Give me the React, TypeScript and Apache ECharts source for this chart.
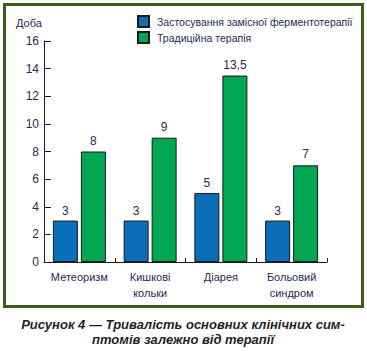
import React, { useEffect, useRef } from "react";
import * as echarts from "echarts";

const categories = ["Метеоризм", "Кишкові\nкольки", "Діарея", "Больовий\nсиндром"];
const seriesNames = ["Застосування замісної ферментотерапії", "Традиційна терапія"];
const enzymeValues = [3, 3, 5, 3];
const traditionalValues = [8, 9, 13.5, 7];
const yTicks = [0, 2, 4, 6, 8, 10, 12, 14, 16];
const unitLabel = "Доба";
const captionLines = [
  "Рисунок 4 — Тривалість основних клінічних сим-",
  "птомів залежно від терапії",
];

const TEXT = "#1e2a55";
const FONT = "'Liberation Sans', Arial, sans-serif";

export default function App() {
  const ref = useRef<HTMLDivElement>(null);
  useEffect(() => {
    if (!ref.current) return;
    const chart = echarts.init(ref.current, undefined, { renderer: "svg" });
    const fmt = (p: any) => String(p.value).replace(".", ",");
    chart.setOption({
      animation: false,
      backgroundColor: "#ffffff",
      grid: { left: 44, top: 41, width: 283, height: 221, containLabel: false },
      legend: {
        orient: "vertical",
        left: 137,
        top: 15,
        itemWidth: 11,
        itemHeight: 11,
        itemGap: 3,
        icon: "rect",
        padding: 0,
        textStyle: { fontFamily: FONT, fontSize: 10.5, color: TEXT, lineHeight: 12, padding: [0, 0, 0, 3], width: 220, overflow: "none" },
        data: seriesNames,
      },
      xAxis: {
        type: "category",
        data: categories,
        axisLine: { lineStyle: { color: "#1a1a1a", width: 1 } },
        axisTick: { show: true, inside: true, length: 4, alignWithLabel: false, lineStyle: { color: "#1a1a1a" } },
        axisLabel: { interval: 0, fontFamily: FONT, fontSize: 11, color: TEXT, lineHeight: 16, margin: 7 },
      },
      yAxis: {
        type: "value",
        min: yTicks[0],
        max: yTicks[yTicks.length - 1],
        interval: 2,
        splitLine: { show: false },
        axisLine: { show: true, lineStyle: { color: "#1a1a1a", width: 1 } },
        axisTick: { show: true, inside: true, length: 7, lineStyle: { color: "#1a1a1a" } },
        axisLabel: { fontFamily: FONT, fontSize: 12, color: TEXT, margin: 5 },
      },
      series: [
        {
          name: seriesNames[0],
          type: "bar",
          data: enzymeValues,
          barWidth: 25,
          barGap: "12%",
          itemStyle: { color: "#0a6eb9", borderColor: "#1a1a1a", borderWidth: 1 },
          label: { show: true, position: "top", distance: 4, fontFamily: FONT, fontSize: 12, color: TEXT, formatter: fmt },
        },
        {
          name: seriesNames[1],
          type: "bar",
          data: traditionalValues,
          barWidth: 25,
          barGap: "12%",
          itemStyle: { color: "#00a651", borderColor: "#1a1a1a", borderWidth: 1 },
          label: { show: true, position: "top", distance: 5, fontFamily: FONT, fontSize: 12, color: TEXT, formatter: fmt },
        },
      ],
      graphic: [
        {
          type: "rect",
          z: -10,
          silent: true,
          shape: { x: 4.5, y: 4.5, width: 358, height: 302 },
          style: { fill: "#ffffff", stroke: "#3d5c1c", lineWidth: 3 },
        },
        {
          type: "text",
          x: 16,
          y: 23,
          style: { text: unitLabel, fontFamily: FONT, fontSize: 11, fill: TEXT, textVerticalAlign: "middle" },
        },
        {
          type: "text",
          x: 183,
          y: 324,
          style: {
            text: captionLines[0],
            fontFamily: FONT,
            fontSize: 13,
            fontWeight: "bold",
            fontStyle: "italic",
            fill: "#231f20",
            textAlign: "center",
            textVerticalAlign: "middle",
          },
        },
        {
          type: "text",
          x: 183,
          y: 339,
          style: {
            text: captionLines[1],
            fontFamily: FONT,
            fontSize: 13,
            fontWeight: "bold",
            fontStyle: "italic",
            fill: "#231f20",
            textAlign: "center",
            textVerticalAlign: "middle",
          },
        },
      ],
    });
    return () => chart.dispose();
  }, []);
  return (
    <div
      ref={ref}
      style={{ position: "fixed", left: 0, top: 0, width: 367, height: 351 }}
    />
  );
}
